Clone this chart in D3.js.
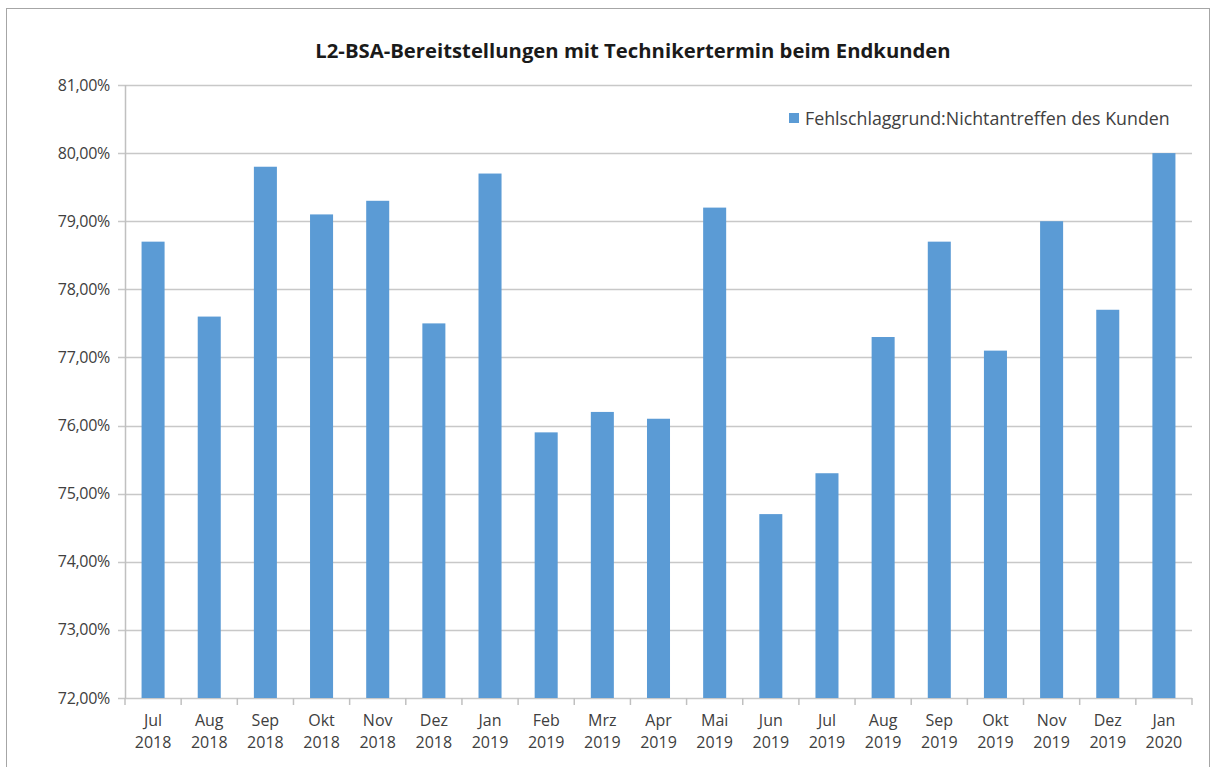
<!DOCTYPE html>
<html>
<head>
<meta charset="utf-8">
<script src="https://cdn.jsdelivr.net/npm/d3@7"></script>
<style>
  body { margin: 0; background: #fff; }
  svg { font-family: "Open Sans", "Liberation Sans", sans-serif; }
</style>
</head>
<body>
<svg width="1212" height="767"></svg>
<script>
// Data ======================================================================

const months = ["Jul", "Aug", "Sep", "Okt", "Nov", "Dez", "Jan", "Feb", "Mrz", "Apr",
  "Mai", "Jun", "Jul", "Aug", "Sep", "Okt", "Nov", "Dez", "Jan"];
const years = ["2018", "2018", "2018", "2018", "2018", "2018", "2019", "2019", "2019", "2019",
  "2019", "2019", "2019", "2019", "2019", "2019", "2019", "2019", "2020"];
const values = [78.7, 77.6, 79.8, 79.1, 79.3, 77.5, 79.7, 75.9, 76.2, 76.1,
  79.2, 74.7, 75.3, 77.3, 78.7, 77.1, 79.0, 77.7, 80.0];
const yTicks = [72, 73, 74, 75, 76, 77, 78, 79, 80, 81];
const seriesName = "Fehlschlaggrund:Nichtantreffen des Kunden";

// Layout ====================================================================

const margin = { left: 125, right: 20, top: 85, bottom: 69 };
const barColor = "#5b9bd5";

const svg = d3.select("svg");

// outer chart frame
svg.append("rect")
  .attr("x", 6.5).attr("y", 8.5)
  .attr("width", 1203).attr("height", 770)
  .attr("fill", "none")
  .attr("stroke", "#a6a6a6");

const keys = d3.range(values.length);

const x = d3.scaleBand()
  .domain(keys)
  .range([margin.left, 1192])
  .paddingInner(0.59)
  .paddingOuter(0.295);

const y = d3.scaleLinear()
  .domain([72, 81])
  .range([698, margin.top]);

// Grid lines ================================================================

svg.append("g")
  .selectAll("line")
  .data(yTicks)
  .join("line")
  .attr("x1", margin.left - 7)
  .attr("x2", 1192)
  .attr("y1", d => Math.round(y(d)) + 0.5)
  .attr("y2", d => Math.round(y(d)) + 0.5)
  .attr("stroke", "#c8c8c8")
  .attr("stroke-width", 1.5);

// Bars ======================================================================

svg.append("g")
  .selectAll("rect")
  .data(values)
  .join("rect")
  .attr("x", (d, i) => x(i))
  .attr("width", x.bandwidth())
  .attr("y", d => y(d))
  .attr("height", d => y(72) - y(d))
  .attr("fill", barColor);

// Axes ======================================================================

const fmt = d => d3.format(".2f")(d).replace(".", ",") + "%";

svg.append("g")
  .selectAll("text")
  .data(yTicks)
  .join("text")
  .attr("x", 110)
  .attr("y", d => y(d) + 5.5)
  .attr("text-anchor", "end")
  .attr("font-size", 16)
  .attr("letter-spacing", -0.3)
  .attr("fill", "#404040")
  .text(fmt);

// y axis line
svg.append("line")
  .attr("x1", margin.left + 0.5).attr("x2", margin.left + 0.5)
  .attr("y1", y(81)).attr("y2", y(72))
  .attr("stroke", "#c0c0c0").attr("stroke-width", 1.5);

// x tick marks at category boundaries
const step = x.step();
svg.append("g")
  .selectAll("line")
  .data(d3.range(values.length + 1))
  .join("line")
  .attr("x1", i => margin.left + i * step)
  .attr("x2", i => margin.left + i * step)
  .attr("y1", y(72))
  .attr("y2", y(72) + 7)
  .attr("stroke", "#c0c0c0")
  .attr("stroke-width", 1.5);

const xLabels = svg.append("g")
  .selectAll("text")
  .data(keys)
  .join("text")
  .attr("text-anchor", "middle")
  .attr("font-size", 16)
  .attr("fill", "#404040");

xLabels.append("tspan")
  .attr("x", i => x(i) + x.bandwidth() / 2)
  .attr("y", 726)
  .text(i => months[i]);

xLabels.append("tspan")
  .attr("x", i => x(i) + x.bandwidth() / 2)
  .attr("y", 748)
  .text(i => years[i]);

// Title & legend ============================================================

svg.append("text")
  .attr("x", 633)
  .attr("y", 58)
  .attr("text-anchor", "middle")
  .attr("font-size", 20.3)
  .attr("font-weight", "bold")
  .attr("fill", "#1a1a1a")
  .text("L2-BSA-Bereitstellungen mit Technikertermin beim Endkunden");

svg.append("rect")
  .attr("x", 789).attr("y", 113)
  .attr("width", 10).attr("height", 10)
  .attr("fill", barColor);

svg.append("text")
  .attr("x", 805)
  .attr("y", 124.5)
  .attr("font-size", 17.8)
  .attr("fill", "#404040")
  .text(seriesName);
</script>
</body>
</html>
